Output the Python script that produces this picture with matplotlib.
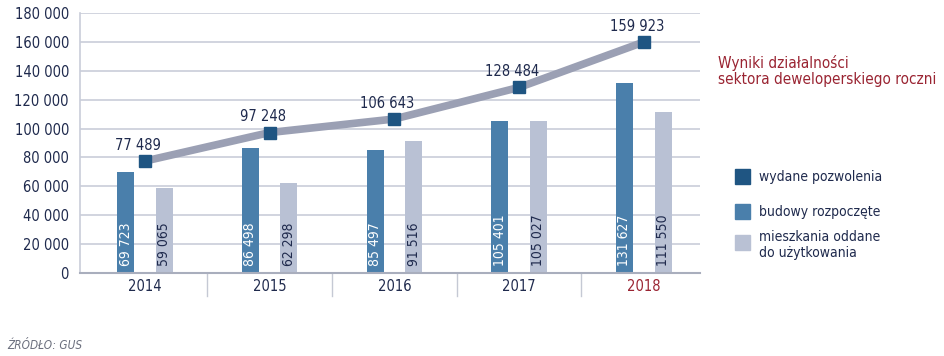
"""
Wyniki działalności sektora deweloperskiego (GUS), 2014-2018
"""

import matplotlib.pyplot as plt
import numpy as np

# -----------------------------
# Data
# -----------------------------
years = ["2014", "2015", "2016", "2017", "2018"]
pozwolenia = [77489, 97248, 106643, 128484, 159923]
rozpoczete = [69723, 86498, 85497, 105401, 131627]
oddane = [59065, 62298, 91516, 105027, 111550]

legend_labels = ["wydane pozwolenia", "budowy rozpoczęte", "mieszkania oddane\ndo użytkowania"]
title_text = "Wyniki działalności\nsektora deweloperskiego roczni"
source_text = "ŹRÓDŁO: GUS"

# -----------------------------
# Styles
# -----------------------------
NAVY = "#1f2a4d"
DARK_BLUE = "#1f5582"
MID_BLUE = "#4a7fab"
LIGHT = "#b9c1d4"
LINE_GREY = "#9ba0b4"
GRID = "#c9cdd9"
RED = "#9a2432"

plt.rcParams["font.family"] = ["DejaVu Sans"]
plt.rcParams["font.stretch"] = "condensed"


def fmt(v):
    return f"{v:,}".replace(",", " ")


def main() -> None:
    fig = plt.figure(figsize=(9.45, 3.56), dpi=100)
    ax = fig.add_axes([0.0847, 0.233, 0.656, 0.7305])

    x = np.arange(len(years))
    w = 0.136
    off = 0.155

    ax.bar(x - off, rozpoczete, width=w, color=MID_BLUE, zorder=2)
    ax.bar(x + off, oddane, width=w, color=LIGHT, zorder=2)
    ax.plot(x, pozwolenia, color=LINE_GREY, lw=5.5, zorder=3,
            solid_capstyle="butt")
    ax.plot(x, pozwolenia, ls="none", marker="s", ms=8, color=DARK_BLUE,
            zorder=4)

    # bar labels inside bars
    for xi, v in zip(x, rozpoczete):
        ax.text(xi - off, 5000, fmt(v), rotation=90, ha="center", va="bottom",
                color="white", fontsize=10, zorder=5)
    for xi, v in zip(x, oddane):
        ax.text(xi + off, 5000, fmt(v), rotation=90, ha="center", va="bottom",
                color=NAVY, fontsize=10, zorder=5)

    # line labels
    for xi, v in zip(x, pozwolenia):
        ax.annotate(fmt(v), (xi, v), xytext=(-5, 6), textcoords="offset points",
                    ha="center", va="bottom", color=NAVY, fontsize=10.5, zorder=5)

    ax.set_xlim(-0.52, 4.45)
    ax.set_ylim(0, 180000)
    ax.set_yticks(np.arange(0, 180001, 20000))
    ax.set_yticklabels([fmt(v) for v in range(0, 180001, 20000)],
                       color=NAVY, fontsize=10.5)
    ax.yaxis.grid(True, color=GRID, lw=1.2, zorder=0)
    ax.tick_params(axis="y", length=0, pad=8)
    ax.tick_params(axis="x", length=0, pad=4)

    ax.set_xticks(x)
    ax.set_xticklabels(years, fontsize=10.5, color=NAVY)
    ax.get_xticklabels()[-1].set_color(RED)

    for side in ["top", "right"]:
        ax.spines[side].set_visible(False)
    ax.spines["left"].set_color(GRID)
    ax.spines["left"].set_linewidth(1.2)
    ax.spines["bottom"].set_color("#a9aebd")
    ax.spines["bottom"].set_linewidth(1.5)

    # category separators under the axis
    for b in x[:-1] + 0.5:
        ax.plot([b, b], [0, -0.09], transform=ax.get_xaxis_transform(),
                color="#c5c9d4", lw=1, clip_on=False)

    # title and legend on the right
    fig.text(0.760, 0.80, title_text, color=RED, fontsize=11,
             va="center", ha="left", linespacing=1.05)

    legend_colors = [DARK_BLUE, MID_BLUE, LIGHT]
    legend_y = [0.503, 0.405, 0.318]
    for c, lab, yy in zip(legend_colors, legend_labels, legend_y):
        fig.patches.append(plt.Rectangle((0.778, yy - 0.021), 0.016, 0.042,
                                         transform=fig.transFigure,
                                         color=c))
        fig.text(0.803, yy if "\n" not in lab else yy - 0.006, lab,
                 color=NAVY, fontsize=10, va="center", ha="left",
                 linespacing=1.15)

    fig.text(0.008, 0.012, source_text, color="#6b6f7d", fontsize=8.5,
             style="italic", ha="left", va="bottom")

    fig.savefig("out.png", dpi=100)


if __name__ == "__main__":
    main()
